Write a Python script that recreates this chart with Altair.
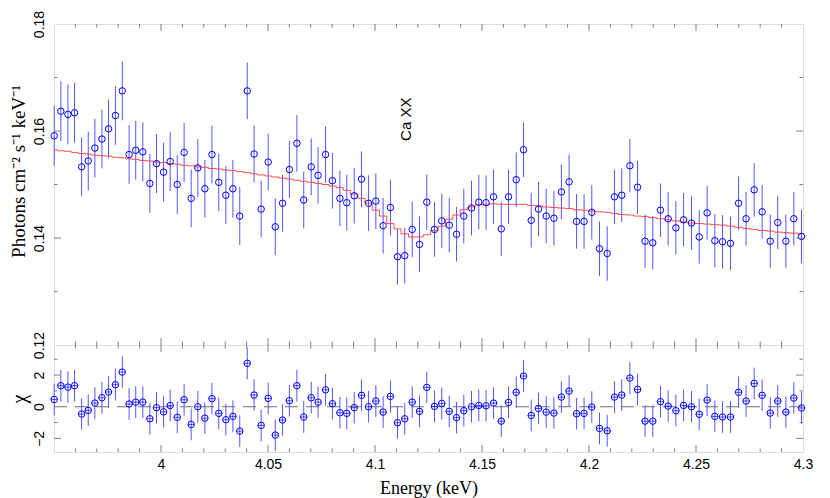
import altair as alt
import pandas as pd

energy = [3.9501, 3.9532, 3.9565, 3.9596, 3.9629, 3.9660, 3.9691, 3.9724, 3.9755, 3.9787,
          3.9819, 3.9851, 3.9882, 3.9915, 3.9948, 3.9979, 4.0012, 4.0043, 4.0076, 4.0108,
          4.0141, 4.0172, 4.0205, 4.0238, 4.0270, 4.0303, 4.0336, 4.0368, 4.0403, 4.0435,
          4.0468, 4.0501, 4.0534, 4.0568, 4.0600, 4.0635, 4.0667, 4.0702, 4.0734, 4.0769,
          4.0801, 4.0836, 4.0868, 4.0903, 4.0937, 4.0970, 4.1004, 4.1038, 4.1072, 4.1105,
          4.1139, 4.1174, 4.1208, 4.1242, 4.1278, 4.1312, 4.1347, 4.1381, 4.1415, 4.1451,
          4.1485, 4.1519, 4.1554, 4.1590, 4.1624, 4.1660, 4.1694, 4.1730, 4.1764, 4.1800,
          4.1836, 4.1871, 4.1907, 4.1942, 4.1977, 4.2013, 4.2049, 4.2085, 4.2119, 4.2153,
          4.2191, 4.2227, 4.2262, 4.2298, 4.2334, 4.2370, 4.2406, 4.2442, 4.2479, 4.2515,
          4.2552, 4.2588, 4.2624, 4.2661, 4.2699, 4.2734, 4.2772, 4.2809, 4.2847, 4.2882,
          4.2920, 4.2957, 4.2993]

flux = [0.1591, 0.1637, 0.1631, 0.1634, 0.1533, 0.1544, 0.1568, 0.1585, 0.1604, 0.1629,
        0.1675, 0.1556, 0.1564, 0.1561, 0.1502, 0.1539, 0.1523, 0.1543, 0.1500, 0.1560,
        0.1474, 0.1531, 0.1492, 0.1556, 0.1504, 0.1480, 0.1492, 0.1441, 0.1675, 0.1557,
        0.1454, 0.1542, 0.1421, 0.1465, 0.1528, 0.1577, 0.1471, 0.1533, 0.1517, 0.1556,
        0.1507, 0.1474, 0.1466, 0.1479, 0.1510, 0.1465, 0.1469, 0.1423, 0.1457, 0.1365,
        0.1367, 0.1416, 0.1388, 0.1467, 0.1416, 0.1432, 0.1424, 0.1407, 0.1441, 0.1456,
        0.1467, 0.1466, 0.1477, 0.1417, 0.1477, 0.1509, 0.1565, 0.1433, 0.1454, 0.1441,
        0.1437, 0.1486, 0.1505, 0.1431, 0.1431, 0.1448, 0.1380, 0.1371, 0.1477, 0.1480,
        0.1535, 0.1495, 0.1394, 0.1391, 0.1452, 0.1436, 0.1419, 0.1434, 0.1428, 0.1402,
        0.1447, 0.1395, 0.1393, 0.1390, 0.1465, 0.1436, 0.1490, 0.1449, 0.1394, 0.1429,
        0.1394, 0.1436, 0.1403]

flux_err = [0.0056, 0.0056, 0.0056, 0.0056, 0.0055, 0.0055, 0.0055, 0.0055, 0.0055, 0.0055,
            0.0055, 0.0055, 0.0055, 0.0055, 0.0055, 0.0055, 0.0055, 0.0055, 0.0055, 0.0055,
            0.0054, 0.0054, 0.0054, 0.0054, 0.0054, 0.0054, 0.0054, 0.0054, 0.0053, 0.0053,
            0.0053, 0.0053, 0.0053, 0.0053, 0.0053, 0.0053, 0.0053, 0.0053, 0.0053, 0.0053,
            0.0052, 0.0052, 0.0052, 0.0052, 0.0052, 0.0052, 0.0052, 0.0052, 0.0052, 0.0052,
            0.0052, 0.0052, 0.0052, 0.0052, 0.0051, 0.0051, 0.0051, 0.0051, 0.0051, 0.0051,
            0.0051, 0.0051, 0.0051, 0.0051, 0.0051, 0.0051, 0.0051, 0.0051, 0.0051, 0.0051,
            0.0051, 0.0051, 0.0051, 0.0051, 0.0051, 0.0051, 0.0051, 0.0051, 0.0051, 0.0050,
            0.0050, 0.0050, 0.0050, 0.0050, 0.0050, 0.0050, 0.0050, 0.0050, 0.0050, 0.0050,
            0.0050, 0.0050, 0.0050, 0.0050, 0.0050, 0.0050, 0.0050, 0.0050, 0.0050, 0.0050,
            0.0050, 0.0050, 0.0050]

model = [0.1565, 0.1563, 0.1562, 0.1560, 0.1558, 0.1557, 0.1555, 0.1554, 0.1553, 0.1551,
         0.1550, 0.1548, 0.1547, 0.1545, 0.1544, 0.1542, 0.1541, 0.1539, 0.1538, 0.1536,
         0.1535, 0.1533, 0.1532, 0.1530, 0.1529, 0.1527, 0.1526, 0.1524, 0.1522, 0.1520,
         0.1518, 0.1516, 0.1514, 0.1512, 0.1510, 0.1508, 0.1506, 0.1504, 0.1502, 0.1500,
         0.1497, 0.1494, 0.1489, 0.1482, 0.1474, 0.1465, 0.1452, 0.1441, 0.1427, 0.1417,
         0.1408, 0.1402, 0.1402, 0.1406, 0.1414, 0.1422, 0.1435, 0.1443, 0.1453, 0.1458,
         0.1462, 0.1463, 0.1464, 0.1463, 0.1463, 0.1463, 0.1463, 0.1461, 0.1460, 0.1458,
         0.1457, 0.1456, 0.1455, 0.1453, 0.1452, 0.1450, 0.1449, 0.1448, 0.1446, 0.1444,
         0.1443, 0.1441, 0.1440, 0.1438, 0.1436, 0.1434, 0.1432, 0.1430, 0.1428, 0.1427,
         0.1426, 0.1425, 0.1424, 0.1422, 0.1420, 0.1418, 0.1416, 0.1414, 0.1413, 0.1411,
         0.1410, 0.1409, 0.1407]

chi = [0.46, 1.33, 1.24, 1.33, -0.46, -0.23, 0.23, 0.57, 0.93, 1.39,
       2.19, 0.17, 0.29, 0.29, -0.76, -0.06, -0.32, 0.08, -0.67, 0.44,
       -1.12, 0.00, -0.72, 0.51, -0.42, -0.82, -0.61, -1.54, 2.74, 0.74,
       -1.18, 0.53, -1.79, -0.84, 0.38, 1.33, -0.65, 0.57, 0.29, 1.07,
       0.19, -0.38, -0.42, -0.06, 0.72, 0.00, 0.36, -0.34, 0.65, -1.01,
       -0.76, 0.29, -0.29, 1.22, 0.02, 0.21, -0.29, -0.69, -0.25, 0.00,
       0.08, 0.06, 0.23, -0.91, 0.27, 0.91, 1.94, -0.55, -0.11, -0.34,
       -0.40, 0.61, 0.99, -0.44, -0.42, -0.02, -1.37, -1.52, 0.61, 0.74,
       1.81, 1.09, -0.91, -0.91, 0.32, 0.04, -0.25, 0.08, 0.00, -0.48,
       0.42, -0.61, -0.65, -0.65, 0.91, 0.36, 1.47, 0.72, -0.40, 0.36,
       -0.34, 0.55, -0.08]

x_labels = [4.0, 4.05, 4.1, 4.15, 4.2, 4.25, 4.3]
x_major = [4.0, 4.05, 4.1, 4.15, 4.2, 4.25]
x_minor = [3.96, 3.97, 3.98, 3.99, 4.01, 4.02, 4.03, 4.04, 4.06, 4.07, 4.08, 4.09,
           4.11, 4.12, 4.13, 4.14, 4.16, 4.17, 4.18, 4.19, 4.21, 4.22, 4.23, 4.24,
           4.26, 4.27, 4.28, 4.29]
ytop_labels = [0.12, 0.14, 0.16, 0.18]
ytop_major = [0.14, 0.16]
ytop_minor = [0.13, 0.15, 0.17]
ybot_labels = [-2, 0, 2]
ybot_major = [-2, 2]
ybot_minor = [-1, 1, 3]

line_label = "Ca XX"
line_pos = [4.1147, 0.1622]

W, H1, H2 = 749, 321, 107
MAJ, MIN = 7, 3.5
BLUE = "#0000ff"
BAR = "#5555ff"
FRAME = "#808080"
RED = "#ff3030"

df = pd.DataFrame({"E": energy, "flux": flux, "err": flux_err, "model": model, "chi": chi})

xscale = alt.Scale(domain=[3.95, 4.3], nice=False, zero=False)
yscale_top = alt.Scale(domain=[0.12, 0.18], nice=False, zero=False)
yscale_bot = alt.Scale(domain=[-2.86, 3.9], nice=False, zero=False)

ytop_title = "Photons  cm\u207b\u00b2  s\u207b\u00b9  keV\u207b\u00b9"

common_y = dict(ticks=False, tickSize=0, domain=False, grid=False, labelAngle=270,
                labelAlign="center", labelBaseline="bottom", labelFont="Liberation Sans",
                labelFontSize=14, labelColor="black", labelPadding=8, labelOverlap=False,
                labelFlush=False, titleFont="Liberation Serif", titleFontWeight="normal",
                titleColor="black")

ax_ytop = alt.Axis(values=ytop_labels, format=".2f", title=ytop_title, titleY=147,
                   titleFontSize=19, titlePadding=4, **common_y)
ax_ybot = alt.Axis(values=ybot_labels, format="d", title="\u03c7",
                   titleFontSize=20, titlePadding=3, **common_y)
ax_xbot = alt.Axis(values=x_labels, format="~g", title="Energy (keV)", ticks=False, tickSize=0,
                   domain=False, grid=False, labelFont="Liberation Sans", labelFontSize=14,
                   labelColor="black", labelPadding=5, labelFlush=False, labelOverlap=False,
                   titleFont="Liberation Serif", titleFontSize=18, titleFontWeight="normal",
                   titleColor="black", titlePadding=8)


def x_ticks(vals, length, height, axis):
    d = pd.DataFrame({"E": vals})
    bot = alt.Chart(d).mark_rule(color=FRAME, strokeWidth=1).encode(
        x=alt.X("E:Q", scale=xscale, axis=axis),
        y=alt.value(height), y2=alt.value(height - length))
    top = alt.Chart(d).mark_rule(color=FRAME, strokeWidth=1).encode(
        x=alt.X("E:Q", scale=xscale, axis=axis),
        y=alt.value(0), y2=alt.value(length))
    return [bot, top]


def y_ticks(vals, field, scale, axis, length):
    d = pd.DataFrame({field: vals})
    left = alt.Chart(d).mark_rule(color=FRAME, strokeWidth=1).encode(
        y=alt.Y(f"{field}:Q", scale=scale, axis=axis),
        x=alt.value(0), x2=alt.value(length))
    right = alt.Chart(d).mark_rule(color=FRAME, strokeWidth=1).encode(
        y=alt.Y(f"{field}:Q", scale=scale, axis=axis),
        x=alt.value(W), x2=alt.value(W - length))
    return [left, right]


# ---------- top panel ----------
top_err = alt.Chart(df).transform_calculate(
    lo="datum.flux - datum.err", hi="datum.flux + datum.err"
).mark_rule(color=BAR, strokeWidth=1).encode(
    x=alt.X("E:Q", scale=xscale, axis=None),
    y=alt.Y("lo:Q", scale=yscale_top, axis=ax_ytop),
    y2="hi:Q")

top_model = alt.Chart(df).mark_line(color=RED, strokeWidth=1, interpolate="step", opacity=0.85).encode(
    x=alt.X("E:Q", scale=xscale, axis=None),
    y=alt.Y("model:Q", scale=yscale_top, axis=ax_ytop))

top_pts = alt.Chart(df).mark_point(shape="circle", filled=False, color=BLUE, size=42,
                                   strokeWidth=1, opacity=1).encode(
    x=alt.X("E:Q", scale=xscale, axis=None),
    y=alt.Y("flux:Q", scale=yscale_top, axis=ax_ytop))

lbl = pd.DataFrame({"E": [line_pos[0]], "flux": [line_pos[1]], "t": [line_label]})
top_text = alt.Chart(lbl).mark_text(angle=270, align="center", baseline="middle",
                                    font="Liberation Sans", fontSize=15, color="black").encode(
    x=alt.X("E:Q", scale=xscale, axis=None),
    y=alt.Y("flux:Q", scale=yscale_top, axis=ax_ytop),
    text="t:N")

top_layers = [top_err, top_model, top_pts, top_text]
top_layers += x_ticks(x_major, MAJ, H1, None) + x_ticks(x_minor, MIN, H1, None)
top_layers += y_ticks(ytop_major, "flux", yscale_top, ax_ytop, MAJ)
top_layers += y_ticks(ytop_minor, "flux", yscale_top, ax_ytop, MIN)

top = alt.layer(*top_layers).properties(width=W, height=H1)

# ---------- bottom panel ----------
zero = alt.Chart(pd.DataFrame({"chi": [0.0]})).mark_rule(
    color="#707070", strokeWidth=1.2, strokeDash=[13, 8]).encode(
    y=alt.Y("chi:Q", scale=yscale_bot, axis=ax_ybot),
    x=alt.value(0), x2=alt.value(W))

bot_err = alt.Chart(df).transform_calculate(
    lo="datum.chi - 1", hi="datum.chi + 1"
).mark_rule(color=BAR, strokeWidth=1).encode(
    x=alt.X("E:Q", scale=xscale, axis=ax_xbot),
    y=alt.Y("lo:Q", scale=yscale_bot, axis=ax_ybot),
    y2="hi:Q")

bot_pts = alt.Chart(df).mark_point(shape="circle", filled=False, color=BLUE, size=42,
                                   strokeWidth=1, opacity=1).encode(
    x=alt.X("E:Q", scale=xscale, axis=ax_xbot),
    y=alt.Y("chi:Q", scale=yscale_bot, axis=ax_ybot))

bot_bin = alt.Chart(df).mark_tick(orient="horizontal", color=BLUE, size=7, thickness=1).encode(
    x=alt.X("E:Q", scale=xscale, axis=ax_xbot),
    y=alt.Y("chi:Q", scale=yscale_bot, axis=ax_ybot))

bot_layers = [zero, bot_err, bot_pts, bot_bin]
bot_layers += x_ticks(x_major, MAJ, H2, ax_xbot) + x_ticks(x_minor, MIN, H2, ax_xbot)
bot_layers += y_ticks(ybot_major, "chi", yscale_bot, ax_ybot, MAJ)
bot_layers += y_ticks(ybot_minor, "chi", yscale_bot, ax_ybot, MIN)

bottom = alt.layer(*bot_layers).properties(width=W, height=H2)

chart = alt.vconcat(top, bottom, spacing=0, bounds="flush").properties(
    padding={"left": 0, "top": 1, "right": 5, "bottom": 0}
).configure_view(stroke=FRAME, strokeWidth=1).configure(background="white")

chart.save("out.html", embed_options={"renderer": "svg", "actions": False})
